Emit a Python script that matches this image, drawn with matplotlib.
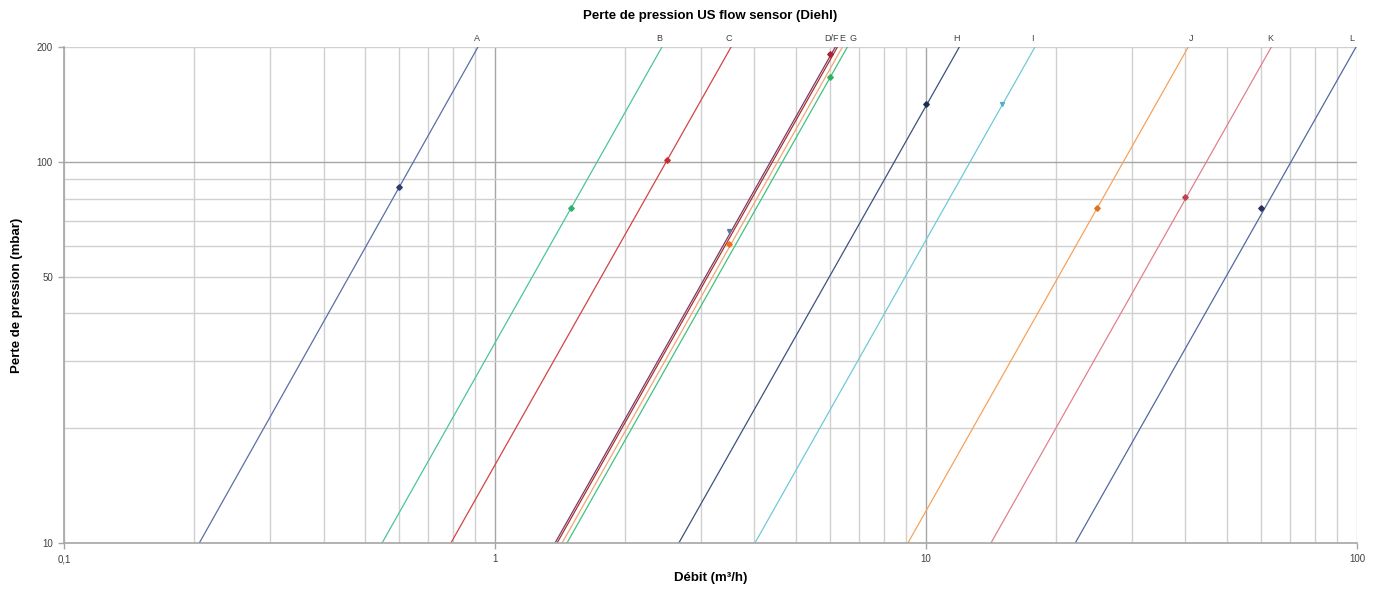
import matplotlib
matplotlib.use("Agg")
import matplotlib.pyplot as plt
from matplotlib.ticker import FixedLocator, NullFormatter, FuncFormatter

plt.rcParams['font.family'] = ['Liberation Sans', 'DejaVu Sans']

# Sensor curves: flow (m3/h) at 10 mbar and at 200 mbar
names = ["A", "B", "C", "D", "F", "E", "G", "H", "I", "J", "K", "L"]
q_at_10 = [0.206, 0.547, 0.790, 1.378, 1.393, 1.431, 1.469, 2.67, 4.01, 9.08, 14.15, 22.2]
q_at_200 = [0.913, 2.44, 3.53, 6.16, 6.23, 6.40, 6.57, 11.95, 17.9, 40.6, 63.3, 99.5]
dp_ends = [10, 200]

# Nominal points (flow, pressure loss)
marker_q = [0.6, 1.5, 2.5, 6.0, 3.5, 3.5, 6.0, 10, 15, 25, 40, 60]
marker_dp = [85.9, 75.6, 101, 191.6, 65.8, 60.8, 166.8, 141.7, 141.7, 75.6, 80.8, 75.6]

# top labels ("F" shares the "D/F" label)
top_labels = ["A", "B", "C", "D/F", "", "E", "G", "H", "I", "J", "K", "L"]
label_dx = [-1, -2, -2, -3, 0, 0, 4, -2, -2, 2, -1, -3]

line_colors = ["#5b6fa6", "#4cc49c", "#d24444", "#7c3a6a", "#a83232", "#f5a474",
               "#3fc283", "#3d527f", "#70c9da", "#f6a35a", "#e2808e", "#5369a1"]
marker_colors = ["#2e3d6e", "#2fb16f", "#c62f2f", "#b01f33", "#5a78a8", "#ee6f1f",
                 "#2fb05f", "#1f2e4e", "#4eb0c2", "#e07222", "#c0404f", "#2c2f5e"]
marker_shapes = ["D", "D", "D", "D", "v", "D", "D", "D", "v", "D", "D", "D"]

fig = plt.figure(figsize=(13.74, 5.92), dpi=100)
ax = fig.add_axes([0.0466, 0.0828, 0.9410, 0.8378])

ax.set_xscale("log")
ax.set_yscale("log")
ax.set_xlim(0.1, 100)
ax.set_ylim(10, 200)

# grid
xgrid = [m * 10 ** e for e in (-1, 0, 1) for m in range(1, 10)] + [100]
ygrid = [10, 20, 30, 40, 50, 60, 70, 80, 90, 100, 200]
for x in xgrid:
    major = x in (1, 10)
    ax.axvline(x, color="#a6a6a6" if major else "#d0d0d0", lw=1.0, zorder=0)
for y in ygrid:
    ax.axhline(y, color="#a6a6a6" if y == 100 else "#d0d0d0", lw=1.0, zorder=0)

for i, name in enumerate(names):
    ax.plot([q_at_10[i], q_at_200[i]], dp_ends, color=line_colors[i], lw=0.9, zorder=2)
    ax.plot(marker_q[i], marker_dp[i], marker=marker_shapes[i], ms=2.8,
            color=marker_colors[i], ls="none", zorder=3)
    if top_labels[i]:
        ax.annotate(top_labels[i], (q_at_200[i], 200), xytext=(label_dx[i], 3),
                    textcoords="offset points", ha="center", va="bottom",
                    fontsize=6.5, color="#404040", annotation_clip=False)

ax.xaxis.set_major_locator(FixedLocator([0.1, 1, 10, 100]))
ax.xaxis.set_minor_formatter(NullFormatter())
ax.xaxis.set_minor_locator(FixedLocator([]))
ax.xaxis.set_major_formatter(FuncFormatter(lambda v, _: f"{v:g}".replace(".", ",")))
ax.yaxis.set_major_locator(FixedLocator([10, 50, 100, 200]))
ax.yaxis.set_minor_locator(FixedLocator([]))
ax.yaxis.set_major_formatter(FuncFormatter(lambda v, _: f"{v:g}"))
ax.tick_params(axis="both", labelsize=7, labelcolor="#404040", color="#a6a6a6",
               length=4, width=1.0, pad=4)

for side in ("top", "right"):
    ax.spines[side].set_visible(False)
for side in ("left", "bottom"):
    ax.spines[side].set_color("#a6a6a6")
    ax.spines[side].set_linewidth(1.2)

ax.set_title("Perte de pression US flow sensor (Diehl)", fontsize=9.5,
             fontweight="bold", pad=20)
ax.set_xlabel("Débit (m³/h)", fontsize=9.5, fontweight="bold")
ax.set_ylabel("Perte de pression (mbar)", fontsize=9.5, fontweight="bold")
ax.xaxis.set_label_coords(0.5, -0.058)
ax.yaxis.set_label_coords(-0.032, 0.5)

fig.savefig("out.png", dpi=100)
